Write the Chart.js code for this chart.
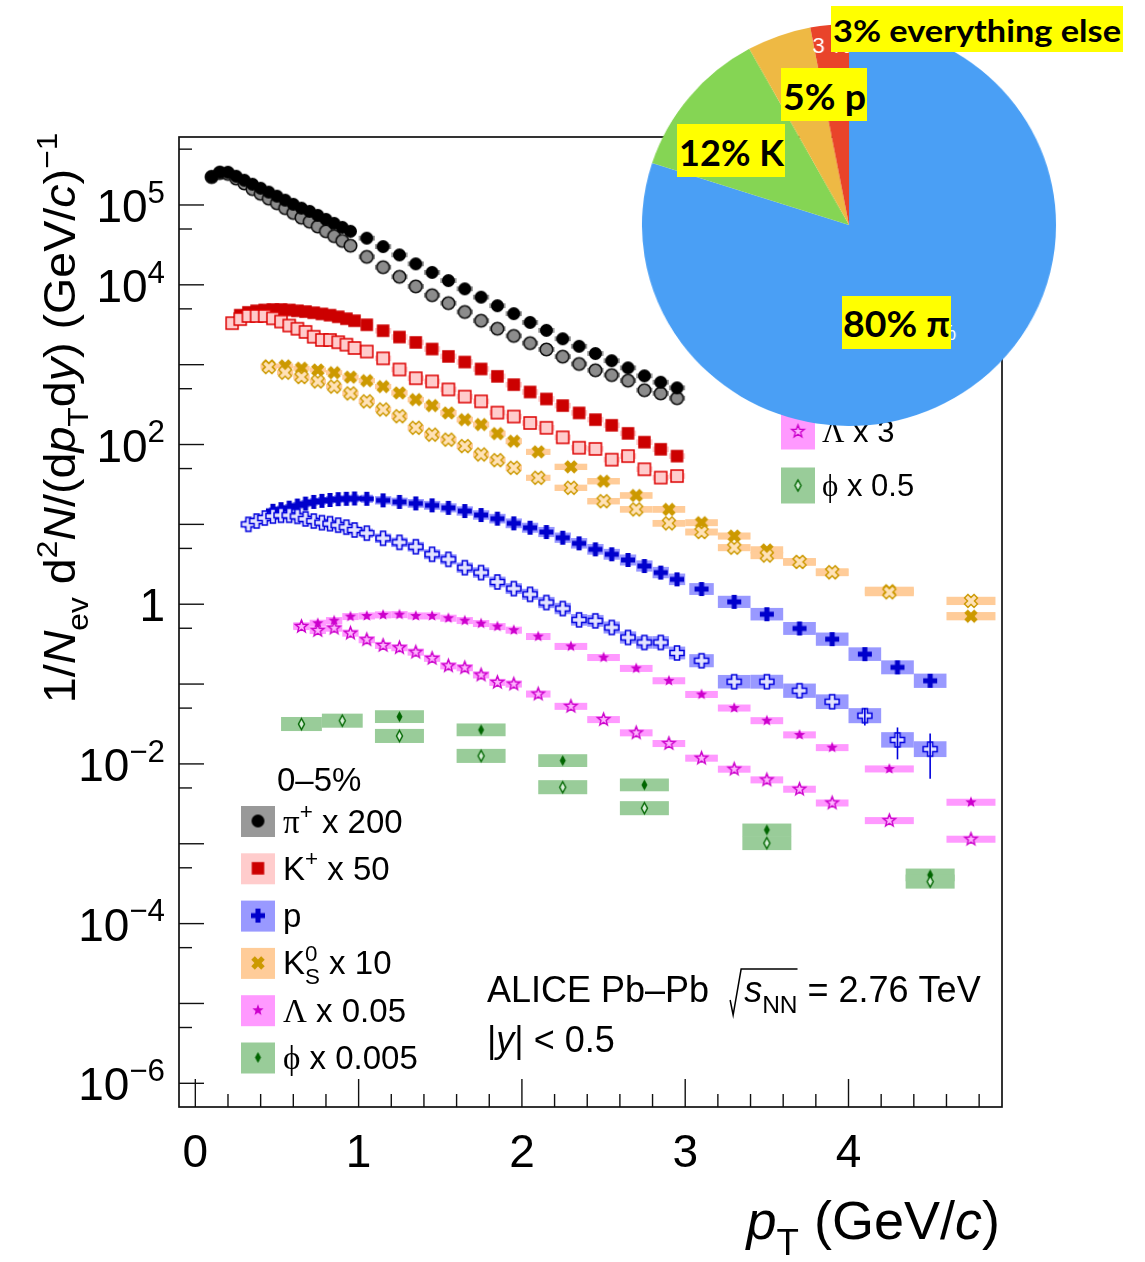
<!DOCTYPE html>
<html>
<head>
<meta charset="utf-8">
<title>Identified hadron spectra, 0-5% Pb-Pb</title>
<script src="https://cdn.jsdelivr.net/npm/chart.js@4.4.1/dist/chart.umd.min.js"></script>
<style>
  html, body { margin: 0; padding: 0; background: #fff; }
  #wrap { position: relative; width: 1145px; height: 1262px; overflow: hidden; }
  #spectra { position: absolute; left: 0; top: 0; }
  #pieBox { position: absolute; left: 648px; top: 24px; width: 402px; height: 402px; transform: scaleX(1.03); transform-origin: 50% 50%; }
  .tag { position: absolute; background: #ffff00; overflow: hidden; }
  .tag span { position: absolute; left: 0; top: 0; white-space: nowrap; color: #000; font-family: Lato, 'Open Sans', 'Noto Sans', sans-serif; font-weight: bold; line-height: normal; transform-origin: 0 0; }
  .tag i { display: inline-block; width: 0; height: 0; }
</style>
</head>
<body>
<div id="wrap">
  <canvas id="spectra" width="1145" height="1262"></canvas>
  <div id="pieBox"><canvas id="pie" width="402" height="402"></canvas></div>
</div>
<script>
// pT bin centres (GeV/c)
const ptPion = [0.10, 0.15, 0.20, 0.25, 0.30, 0.35, 0.40, 0.45, 0.50, 0.55, 0.60, 0.65, 0.70, 0.75, 0.80, 0.85, 0.90, 0.95,
  1.05, 1.15, 1.25, 1.35, 1.45, 1.55, 1.65, 1.75, 1.85, 1.95, 2.05, 2.15, 2.25, 2.35, 2.45, 2.55, 2.65, 2.75, 2.85, 2.95];
const ptKaonOpen = [0.225, 0.275, 0.325, 0.375, 0.425, 0.475, 0.525, 0.575, 0.625, 0.675, 0.725, 0.775, 0.825, 0.875, 0.925, 0.975,
  1.05, 1.15, 1.25, 1.35, 1.45, 1.55, 1.65, 1.75, 1.85, 1.95, 2.05, 2.15, 2.25, 2.35, 2.45, 2.55, 2.65, 2.75, 2.85, 2.95];
const ptKaonFilled = [0.275, 0.325, 0.375, 0.425, 0.475, 0.525, 0.575, 0.625, 0.675, 0.725, 0.775, 0.825, 0.875, 0.925, 0.975,
  1.05, 1.15, 1.25, 1.35, 1.45, 1.55, 1.65, 1.75, 1.85, 1.95, 2.05, 2.15, 2.25, 2.35, 2.45, 2.55, 2.65, 2.75, 2.85, 2.95];
const ptProtonOpen = [0.325, 0.375, 0.425, 0.475, 0.525, 0.575, 0.625, 0.675, 0.725, 0.775, 0.825, 0.875, 0.925, 0.975,
  1.05, 1.15, 1.25, 1.35, 1.45, 1.55, 1.65, 1.75, 1.85, 1.95, 2.05, 2.15, 2.25, 2.35, 2.45, 2.55, 2.65, 2.75, 2.85, 2.95,
  3.1, 3.3, 3.5, 3.7, 3.9, 4.1, 4.3, 4.5];
const ptProtonFilled = [0.475, 0.525, 0.575, 0.625, 0.675, 0.725, 0.775, 0.825, 0.875, 0.925, 0.975,
  1.05, 1.15, 1.25, 1.35, 1.45, 1.55, 1.65, 1.75, 1.85, 1.95, 2.05, 2.15, 2.25, 2.35, 2.45, 2.55, 2.65, 2.75, 2.85, 2.95,
  3.1, 3.3, 3.5, 3.7, 3.9, 4.1, 4.3, 4.5];
const ptK0 = [0.45, 0.55, 0.65, 0.75, 0.85, 0.95, 1.05, 1.15, 1.25, 1.35, 1.45, 1.55, 1.65, 1.75, 1.85, 1.95,
  2.1, 2.3, 2.5, 2.7, 2.9, 3.1, 3.3, 3.5, 3.7, 3.9, 4.25, 4.75];
const ptLambda = [0.65, 0.75, 0.85, 0.95, 1.05, 1.15, 1.25, 1.35, 1.45, 1.55, 1.65, 1.75, 1.85, 1.95,
  2.1, 2.3, 2.5, 2.7, 2.9, 3.1, 3.3, 3.5, 3.7, 3.9, 4.25, 4.75];
const ptPhiOpen = [0.65, 0.9, 1.25, 1.75, 2.25, 2.75, 3.5, 4.5];
const ptPhiFilled = [1.25, 1.75, 2.25, 2.75, 3.5, 4.5];

// yields 1/Nev d2N/(dpT dy), already multiplied by the legend factors
const piPlus = [2.26e5, 2.57e5, 2.57e5, 2.29e5, 2.04e5, 1.82e5, 1.62e5, 1.45e5, 1.29e5, 1.15e5, 1.02e5, 9.12e4, 8.32e4, 7.41e4, 6.61e4, 5.89e4, 5.25e4, 4.68e4,
  3.84e4, 3.01e4, 2.37e4, 1.83e4, 1.43e4, 1.13e4, 8.91e3, 7.01e3, 5.47e3, 4.35e3, 3.38e3, 2.69e3, 2.11e3, 1.70e3, 1.38e3, 1.12e3, 912, 724, 603, 513];
const piOpen = [2.24e5, 2.51e5, 2.45e5, 2.14e5, 1.86e5, 1.58e5, 1.38e5, 1.20e5, 1.05e5, 9.12e4, 7.94e4, 6.92e4, 6.17e4, 5.37e4, 4.68e4, 4.07e4, 3.55e4, 3.09e4,
  2.24e4, 1.66e4, 1.26e4, 9.55e3, 7.41e3, 5.89e3, 4.57e3, 3.55e3, 2.82e3, 2.29e3, 1.86e3, 1.55e3, 1.26e3, 1.02e3, 851, 741, 631, 479, 437, 380];
const kaonPlus = [4.17e3, 4.52e3, 4.73e3, 4.84e3, 4.90e3, 4.90e3, 4.84e3, 4.73e3, 4.62e3, 4.47e3, 4.32e3, 4.17e3, 3.98e3, 3.76e3, 3.55e3,
  3.16e3, 2.66e3, 2.22e3, 1.90e3, 1.57e3, 1.27e3, 1.08e3, 883, 714, 562, 455, 372, 307, 249, 205, 174, 138, 107, 87.1, 71.6];
const kaonOpen = [3.31e3, 3.72e3, 4.07e3, 4.07e3, 4.07e3, 3.80e3, 3.47e3, 3.09e3, 2.82e3, 2.57e3, 2.24e3, 2.04e3, 2.04e3, 1.91e3, 1.78e3, 1.62e3,
  1.46e3, 1.20e3, 871, 676, 617, 490, 398, 347, 251, 224, 186, 162, 123, 91.2, 88.1, 64.6, 71.6, 49.0, 38.5, 40.3];
const proton = [14.8, 15.5, 16.2, 17.2, 18.2, 19.1, 19.7, 20.2, 20.7, 20.9, 21.1,
  20.9, 20.0, 19.1, 18.3, 17.3, 16.1, 14.7, 13.1, 11.8, 10.3, 9.08, 8.02, 6.81, 5.79, 4.87, 4.22, 3.58, 3.01, 2.49, 2.05,
  1.55, 1.07, 0.750, 0.497, 0.365, 0.237, 0.162, 0.110];
const protonOpen = [10.0, 11.0, 12.0, 12.7, 13.0, 13.0, 12.6, 11.7, 11.0, 10.5, 10.2, 9.77, 9.23, 8.51,
  7.76, 6.70, 5.96, 5.25, 4.22, 3.65, 2.87, 2.49, 1.90, 1.57, 1.33, 1.05, 0.883, 0.637, 0.619, 0.511, 0.383, 0.332, 0.332, 0.245,
  0.196, 0.107, 0.107, 0.0826, 0.0601, 0.0402, 0.0200, 0.0153];
// statistical errors large enough to show, open protons only
const protonOpenErrPt = [4.1, 4.3, 4.5];
const protonOpenErr = [0.010, 0.0086, 0.0088];
const k0Filled = [966, 966, 902, 859, 794, 697, 631, 531, 443, 365, 307, 249, 205, 178, 137, 110,
  80.9, 52.5, 34.7, 23.0, 15.4, 10.5, 7.14, 4.79, 3.39, 2.51, 1.48, 0.708];
const k0Open = [933, 794, 700, 617, 531, 437, 347, 275, 226, 162, 133, 115, 95.5, 75.0, 63.7, 51.1,
  38.3, 28.7, 19.5, 15.4, 10.3, 8.02, 5.11, 4.07, 3.39, 2.51, 1.41, 1.10];
const lambdaFilled = [0.537, 0.578, 0.624, 0.700, 0.713, 0.735, 0.741, 0.713, 0.713, 0.668, 0.624, 0.573, 0.525, 0.473,
  0.394, 0.296, 0.215, 0.157, 0.110, 0.0741, 0.0501, 0.0348, 0.0231, 0.0160, 0.00865, 0.00331];
const lambdaOpen = [0.525, 0.468, 0.501, 0.434, 0.359, 0.305, 0.285, 0.251, 0.210, 0.169, 0.160, 0.130, 0.105, 0.100,
  0.0750, 0.0526, 0.0359, 0.0245, 0.0180, 0.0118, 0.00859, 0.00631, 0.00482, 0.00324, 0.00195, 0.00114];
const phiFilled = [0.0391, 0.0267, 0.0110, 0.00546, 0.00149, 0.000407];
const phiOpen = [0.0316, 0.0348, 0.0224, 0.0126, 0.00511, 0.00279, 0.00102, 0.000336];

// axis ticks
const xTickLabels = [0, 1, 2, 3, 4];
const yLabelExponents = [5, 4, 2, 0, -2, -4, -6];

// legend entries: [text, flags]  flags: g = greek, i = italic, ^ = sup, _ = sub, s = stacked with next
const legendCentrality = '0\u20135%';
const legendLeft = [
  [['\u03c0', 'g'], ['+', '^'], [' x 200']],
  [['K'], ['+', '^'], [' x 50']],
  [['p']],
  [['K'], ['0', '^s'], ['S', '_'], [' x 10']],
  [['\u039b', 'g'], [' x 0.05']],
  [['\u03d5', 'g'], [' x 0.005']]
];
const legendRight = [
  [['\u039b', 'g'], [' x 3']],
  [['\u03d5', 'g'], [' x 0.5']]
];

// composition pie
const pieLabels = ['\u03c0', 'K', 'p', 'everything else'];
const pieShares = [80, 12, 5, 3];
const pieColors = ['#4a9ff5', '#85d554', '#eeb944', '#e9442a'];

const X_MIN = -0.1, X_MAX = 4.94;
const Y_MIN = 5.05e-7, Y_MAX = 7.1e5;

const SANS = "'Liberation Sans', Arial, Helvetica, sans-serif";
const SERIF = "'Liberation Serif', 'DejaVu Serif', serif";

// marker sprites, drawn once and used as pointStyle images
function mk(shape, size, fill, stroke, lw) {
    const n = Math.ceil(size) + 6;
    const c = document.createElement('canvas');
    c.width = n; c.height = n;
    const g = c.getContext('2d');
    g.translate(n / 2, n / 2);
    const r = size / 2;
    g.beginPath();
    if (shape === 'circle') {
        g.arc(0, 0, r, 0, 2 * Math.PI);
    } else if (shape === 'square') {
        g.rect(-r, -r, size, size);
    } else if (shape === 'plus' || shape === 'xcross') {
        const a = r * 0.36;
        let pts = [[-a, -r], [a, -r], [a, -a], [r, -a], [r, a], [a, a], [a, r], [-a, r], [-a, a], [-r, a], [-r, -a], [-a, -a]];
        if (shape === 'xcross') {
            pts = pts.map(([px, py]) => [(px - py) * Math.SQRT1_2, (px + py) * Math.SQRT1_2]);
        }
        pts.forEach(([px, py], i) => i ? g.lineTo(px, py) : g.moveTo(px, py));
        g.closePath();
    } else if (shape === 'star') {
        for (let i = 0; i < 10; i++) {
            const rr = i % 2 ? r * 0.42 : r;
            const ang = -Math.PI / 2 + i * Math.PI / 5;
            const px = rr * Math.cos(ang), py = rr * Math.sin(ang);
            i ? g.lineTo(px, py) : g.moveTo(px, py);
        }
        g.closePath();
    } else if (shape === 'diamond') {
        const w = r * 0.55;
        g.moveTo(0, -r); g.lineTo(w, 0); g.lineTo(0, r); g.lineTo(-w, 0); g.closePath();
    }
    if (fill) { g.fillStyle = fill; g.fill(); }
    if (stroke) { g.strokeStyle = stroke; g.lineWidth = lw; g.stroke(); }
    return c;
}

const marks = {
    piFilled: mk('circle', 13, '#000000'),
    piOpen: mk('circle', 12.5, '#8c8c8c', '#111111', 1.6),
    kFilled: mk('square', 12.5, '#cc0000'),
    kOpen: mk('square', 12, '#ffcccc', '#dd0000', 1.5),
    pFilled: mk('plus', 14, '#0000cc'),
    pOpen: mk('plus', 14, '#e4e4ff', '#0000dd', 1.5),
    k0Filled: mk('xcross', 14, '#cc9900'),
    k0Open: mk('xcross', 13.5, '#ffe2b8', '#cc9900', 1.4),
    lamFilled: mk('star', 12, '#cc00cc'),
    lamOpen: mk('star', 13, '#ffb4ff', '#cc00cc', 1.4),
    phiFilled: mk('diamond', 11, '#006600'),
    phiOpen: mk('diamond', 11, '#d6eed6', '#006600', 1.4)
};

// first entry is drawn on top
const species = [
    { pt: ptProtonOpen, y: protonOpen, box: '#9999ff', sys: p => 0.045 + 0.012 * p, mark: marks.pOpen },
    { pt: ptProtonFilled, y: proton, box: '#9999ff', sys: p => 0.04 + 0.011 * p, mark: marks.pFilled },
    { pt: ptKaonOpen, y: kaonOpen, box: '#ffcccc', sys: () => 0.035, mark: marks.kOpen },
    { pt: ptKaonFilled, y: kaonPlus, box: '#ffcccc', sys: () => 0.035, mark: marks.kFilled },
    { pt: ptPion, y: piPlus, box: '#999999', sys: () => 0.03, mark: marks.piFilled },
    { pt: ptPion, y: piOpen, box: '#999999', sys: () => 0.03, mark: marks.piOpen },
    { pt: ptLambda, y: lambdaOpen, box: '#ff99ff', sys: () => 0.044, mark: marks.lamOpen },
    { pt: ptLambda, y: lambdaFilled, box: '#ff99ff', sys: () => 0.044, mark: marks.lamFilled },
    { pt: ptK0, y: k0Open, box: '#ffcc99', sys: p => 0.028 + 0.005 * p, mark: marks.k0Open },
    { pt: ptK0, y: k0Filled, box: '#ffcc99', sys: p => 0.028 + 0.005 * p, mark: marks.k0Filled },
    { pt: ptPhiOpen, y: phiOpen, box: '#99cc99', sys: () => 0.088, mark: marks.phiOpen },
    { pt: ptPhiFilled, y: phiFilled, box: '#99cc99', sys: () => 0.08, mark: marks.phiFilled }
];

// half bin width from the neighbouring points, capped at 0.15
function halfWidth(pts, i) {
    let gap = Infinity;
    if (i > 0) gap = Math.min(gap, pts[i] - pts[i - 1]);
    if (i < pts.length - 1) gap = Math.min(gap, pts[i + 1] - pts[i]);
    return Math.min(gap / 2, 0.15);
}

// text with super/subscripts
function layoutRich(ctx, parts, size) {
    let x = 0, stackW = 0;
    const out = [];
    for (const [t, f = ''] of parts) {
        const small = f.includes('^') || f.includes('_');
        const sz = small ? size * 0.68 : size;
        ctx.font = (f.includes('i') ? 'italic ' : '') + sz.toFixed(1) + 'px ' + (f.includes('g') ? SERIF : SANS);
        const w = ctx.measureText(t).width;
        const dy = f.includes('^') ? -0.42 * size : f.includes('_') ? 0.3 * size : 0;
        out.push({ t, font: ctx.font, x, dy });
        if (f.includes('s')) {
            stackW = Math.max(stackW, w);
        } else {
            x += Math.max(w, stackW);
            stackW = 0;
        }
    }
    return { out, width: x };
}

function drawRich(ctx, parts, x, y, size, align) {
    const lay = layoutRich(ctx, parts, size);
    const x0 = align === 'right' ? x - lay.width : align === 'center' ? x - lay.width / 2 : x;
    ctx.textAlign = 'left';
    ctx.textBaseline = 'alphabetic';
    lay.out.forEach(p => {
        ctx.font = p.font;
        ctx.fillText(p.t, x0 + p.x, y + p.dy);
    });
    return x0 + lay.width;
}

function line(ctx, x0, y0, x1, y1) {
    ctx.beginPath();
    ctx.moveTo(x0, y0);
    ctx.lineTo(x1, y1);
    ctx.stroke();
}

// systematic uncertainty boxes behind the markers
const sysBoxes = {
    id: 'sysBoxes',
    beforeDatasetsDraw(chart) {
        const { ctx, chartArea: a, scales: { x, y } } = chart;
        ctx.save();
        ctx.beginPath();
        ctx.rect(a.left, a.top, a.right - a.left, a.bottom - a.top);
        ctx.clip();
        for (let k = species.length - 1; k >= 0; k--) {
            const s = species[k];
            ctx.fillStyle = s.box;
            s.pt.forEach((p, i) => {
                const hw = halfWidth(s.pt, i);
                const f = Math.pow(10, s.sys(p));
                const x0 = x.getPixelForValue(p - hw), x1 = x.getPixelForValue(p + hw);
                const y0 = y.getPixelForValue(s.y[i] * f), y1 = y.getPixelForValue(s.y[i] / f);
                ctx.fillRect(x0, y0, x1 - x0, y1 - y0);
            });
        }
        ctx.restore();
    }
};

// error bars, frame, ticks, axis titles, legends and labels
const frameAndText = {
    id: 'frameAndText',
    afterDatasetsDraw(chart) {
        const { ctx, chartArea: a, scales: { x, y } } = chart;
        ctx.save();

        ctx.strokeStyle = '#0000dd';
        ctx.lineWidth = 1.6;
        protonOpenErrPt.forEach((p, j) => {
            const i = ptProtonOpen.indexOf(p);
            const v = protonOpen[i], e = protonOpenErr[j];
            const px = x.getPixelForValue(p);
            line(ctx, px, y.getPixelForValue(v + e), px, y.getPixelForValue(v - e));
        });

        ctx.strokeStyle = '#111';
        ctx.fillStyle = '#000';
        ctx.lineWidth = 1.7;
        ctx.strokeRect(a.left, a.top, a.right - a.left, a.bottom - a.top);

        // x ticks every 0.2, long ones at integers
        ctx.lineWidth = 1.4;
        for (let i = 0; i * 0.2 <= X_MAX; i++) {
            const px = x.getPixelForValue(i * 0.2);
            line(ctx, px, a.bottom, px, a.bottom - (i % 5 === 0 ? 28 : 13));
        }
        // y ticks at each decade and at 5 x decade
        for (let e = -7; e <= 6; e++) {
            const major = Math.pow(10, e), minor = 5 * Math.pow(10, e);
            if (major >= Y_MIN && major <= Y_MAX) {
                const py = y.getPixelForValue(major);
                line(ctx, a.left, py, a.left + 25, py);
            }
            if (minor >= Y_MIN && minor <= Y_MAX) {
                const py = y.getPixelForValue(minor);
                line(ctx, a.left, py, a.left + 13, py);
            }
        }

        // tick labels
        ctx.fillStyle = '#000';
        xTickLabels.forEach(v => {
            drawRich(ctx, [[String(v)]], x.getPixelForValue(v), 1167, 46, 'center');
        });
        yLabelExponents.forEach(e => {
            const py = y.getPixelForValue(Math.pow(10, e)) + 17;
            const parts = e === 0 ? [['1']] : [['10'], [(e < 0 ? '\u2212' : '') + Math.abs(e), '^']];
            drawRich(ctx, parts, 165, py, 46, 'right');
        });

        // axis titles
        drawRich(ctx, [['p', 'i'], ['T', '_'], [' (GeV/'], ['c', 'i'], [')']], 1000, 1239, 54, 'right');
        ctx.save();
        ctx.translate(75, 418);
        ctx.rotate(-Math.PI / 2);
        ctx.scale(1.06, 1);
        drawRich(ctx, [['1/'], ['N', 'i'], ['ev', '_'], [' d'], ['2', '^'], ['N', 'i'], ['/(d'], ['p', 'i'], ['T', '_'],
            ['d'], ['y', 'i'], [') (GeV/'], ['c', 'i'], [')'], ['\u22121', '^']], 0, 0, 44, 'center');
        ctx.restore();

        // left legend
        const legendMarks = [marks.piFilled, marks.kFilled, marks.pFilled, marks.k0Filled, marks.lamFilled, marks.phiFilled];
        const legendBoxes = ['#999999', '#ffcccc', '#9999ff', '#ffcc99', '#ff99ff', '#99cc99'];
        drawRich(ctx, [[legendCentrality]], 277, 791, 33);
        legendLeft.forEach((parts, i) => {
            const cy = 821 + i * 47.3;
            ctx.fillStyle = legendBoxes[i];
            ctx.fillRect(241, cy - 15, 34, 31);
            const m = legendMarks[i];
            ctx.drawImage(m, 258 - m.width / 2, cy - m.height / 2);
            ctx.fillStyle = '#000';
            drawRich(ctx, parts, 283, cy + 11.5, 33);
        });

        // right legend, lower entries
        const rightMarks = [marks.lamOpen, marks.phiOpen];
        const rightBoxes = ['#ff99ff', '#99cc99'];
        legendRight.forEach((parts, i) => {
            const cy = 431.5 + i * 54;
            ctx.fillStyle = rightBoxes[i];
            ctx.fillRect(781, cy - 18, 34, 36);
            const m = rightMarks[i];
            ctx.drawImage(m, 798 - m.width / 2, cy - m.height / 2);
            ctx.fillStyle = '#000';
            drawRich(ctx, parts, 822, cy + 10.5, 31);
        });

        // collision system
        const xEnd = drawRich(ctx, [['ALICE Pb\u2013Pb']], 487, 1002, 36);
        const xs = xEnd + 21;
        const afterS = drawRich(ctx, [['s', 'i'], ['NN', '_']], xs + 14, 1002, 36);
        ctx.strokeStyle = '#000';
        ctx.lineWidth = 1.5;
        ctx.beginPath();
        ctx.moveTo(xs, 1000);
        ctx.lineTo(xs + 3, 1015);
        ctx.lineTo(xs + 11, 969);
        ctx.lineTo(afterS, 969);
        ctx.stroke();
        drawRich(ctx, [[' = 2.76 TeV']], afterS, 1002, 36);
        drawRich(ctx, [['|'], ['y', 'i'], ['| < 0.5']], 487, 1052, 36);

        ctx.restore();
    }
};

const datasets = species.map(s => ({
    data: s.pt.map((p, i) => ({ x: p, y: s.y[i] })),
    pointStyle: s.mark,
    pointRadius: 6,
    showLine: false
}));

new Chart(document.getElementById('spectra'), {
    type: 'scatter',
    data: { datasets },
    options: {
        responsive: false,
        animation: false,
        events: [],
        layout: { padding: { left: 179, right: 143, top: 137, bottom: 155 } },
        plugins: { legend: { display: false }, tooltip: { enabled: false } },
        scales: {
            x: { type: 'linear', min: X_MIN, max: X_MAX, bounds: 'data', display: false },
            y: { type: 'logarithmic', min: Y_MIN, max: Y_MAX, bounds: 'data', display: false }
        }
    },
    plugins: [sysBoxes, frameAndText]
});

// white value labels inside the slices
const sliceValues = {
    id: 'sliceValues',
    afterDatasetsDraw(chart) {
        const { ctx } = chart;
        ctx.save();
        ctx.fillStyle = '#ffffff';
        ctx.font = '22px ' + SANS;
        ctx.textAlign = 'center';
        ctx.textBaseline = 'middle';
        chart.getDatasetMeta(0).data.forEach((arc, i) => {
            const { x, y, startAngle, endAngle, outerRadius } = arc.getProps(['x', 'y', 'startAngle', 'endAngle', 'outerRadius'], true);
            const mid = (startAngle + endAngle) / 2;
            const f = pieShares[i] < 4 ? 0.89 : 0.67;
            ctx.fillText(pieShares[i] + ' %', x + Math.cos(mid) * outerRadius * f, y + Math.sin(mid) * outerRadius * f);
        });
        ctx.restore();
    }
};

new Chart(document.getElementById('pie'), {
    type: 'pie',
    data: {
        labels: pieLabels,
        datasets: [{ data: pieShares, backgroundColor: pieColors, borderWidth: 0 }]
    },
    options: {
        responsive: false,
        animation: false,
        events: [],
        layout: { padding: 0 },
        plugins: { legend: { display: false }, tooltip: { enabled: false } }
    },
    plugins: [sliceValues]
});

// yellow call-outs: left, top, width, height, font size, text width, baseline
const tagLayout = [
    [842, 296, 109, 53, 37, 107, 40.7],
    [677, 124, 108, 53, 37, 105, 41.7],
    [781, 68, 86, 53, 37, 83, 42],
    [831, 6, 292, 46, 30, 288, 35.7]
];
const wrap = document.getElementById('wrap');
pieShares.forEach((share, i) => {
    const [l, t, w, h, fs, tw, base] = tagLayout[i];
    const box = document.createElement('div');
    box.className = 'tag';
    box.style.left = l + 'px';
    box.style.top = t + 'px';
    box.style.width = w + 'px';
    box.style.height = h + 'px';
    const span = document.createElement('span');
    span.style.fontSize = fs + 'px';
    span.textContent = share + '% ' + pieLabels[i];
    const probe = document.createElement('i');
    span.appendChild(probe);
    box.appendChild(span);
    wrap.appendChild(box);
    const natural = span.getBoundingClientRect().width;
    span.style.top = (base - probe.offsetTop) + 'px';
    span.style.left = ((w - tw) / 2) + 'px';
    span.style.transform = 'scaleX(' + (tw / natural).toFixed(3) + ')';
});
</script>
</body>
</html>
